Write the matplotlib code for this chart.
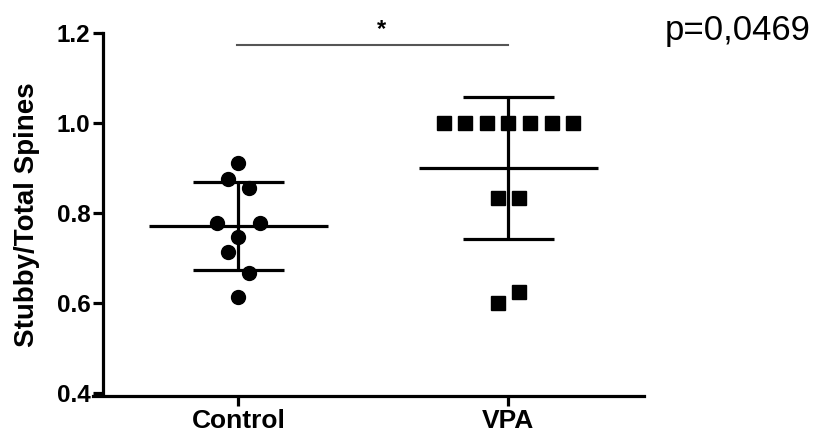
import numpy as np
import matplotlib.pyplot as plt

plt.rcParams['font.family'] = ['Liberation Sans', 'DejaVu Sans']

groups = ['Control', 'VPA']
control_x = [0.0, -0.04, 0.04, -0.08, 0.08, 0.0, -0.04, 0.04, 0.0]
control_y = [0.911, 0.876, 0.856, 0.778, 0.778, 0.747, 0.713, 0.667, 0.613]
vpa_x = [-0.24, -0.16, -0.08, 0.0, 0.08, 0.16, 0.24, -0.04, 0.04, -0.04, 0.04]
vpa_y = [1.0, 1.0, 1.0, 1.0, 1.0, 1.0, 1.0, 0.833, 0.833, 0.600, 0.625]
means = [0.771, 0.900]
sds = [0.098, 0.158]
p_text = 'p=0,0469'

fig = plt.figure(figsize=(8.15, 4.37), dpi=100)
ax = fig.add_axes([0.1141, 0.0938, 0.676, 0.8307])

lw = 2.3
ax.plot(np.array(control_x) + 0, control_y, 'o', color='black', ms=10, zorder=3)
ax.plot(np.array(vpa_x) + 1, vpa_y, 's', color='black', ms=10.5, zorder=3)

for i, (m, s) in enumerate(zip(means, sds)):
    ax.plot([i - 0.333, i + 0.333], [m, m], color='black', lw=lw, solid_capstyle='butt')
    ax.plot([i, i], [m - s, m + s], color='black', lw=lw, solid_capstyle='butt')
    ax.plot([i - 0.167, i + 0.167], [m + s, m + s], color='black', lw=lw, solid_capstyle='butt')
    ax.plot([i - 0.167, i + 0.167], [m - s, m - s], color='black', lw=lw, solid_capstyle='butt')

# significance bar
ax.plot([-0.006, 1.0], [1.173, 1.173], color='#555555', lw=1.5, clip_on=False)
ax.text(0.53, 1.207, '*', ha='center', va='center', fontsize=17, fontweight='bold', clip_on=False)

ax.set_xlim(-0.539, 1.502)
ax.set_ylim(0.3933, 1.2)
ax.spines['top'].set_visible(False)
ax.spines['right'].set_visible(False)
ax.spines['left'].set_position(('data', -0.502))
ax.spines['left'].set_bounds(0.4, 1.2)
for sp in ['left', 'bottom']:
    ax.spines[sp].set_linewidth(lw)
ax.set_yticks([0.4, 0.6, 0.8, 1.0, 1.2])
ax.set_yticklabels(['0.4', '0.6', '0.8', '1.0', '1.2'])
ax.set_xticks([0, 1])
ax.set_xticklabels(groups)
ax.tick_params(axis='y', width=lw, length=7, pad=2, labelsize=17.5)
ax.tick_params(axis='x', width=lw, length=7, pad=2, labelsize=19)
for lab in ax.get_xticklabels() + ax.get_yticklabels():
    lab.set_fontweight('bold')
ax.set_ylabel('Stubby/Total Spines', fontsize=20, fontweight='bold')
ax.yaxis.set_label_coords(-0.096, 0.5)

fig.text(0.816, 0.931, p_text, fontsize=25, va='center', ha='left')

fig.savefig('out.png', dpi=100)
